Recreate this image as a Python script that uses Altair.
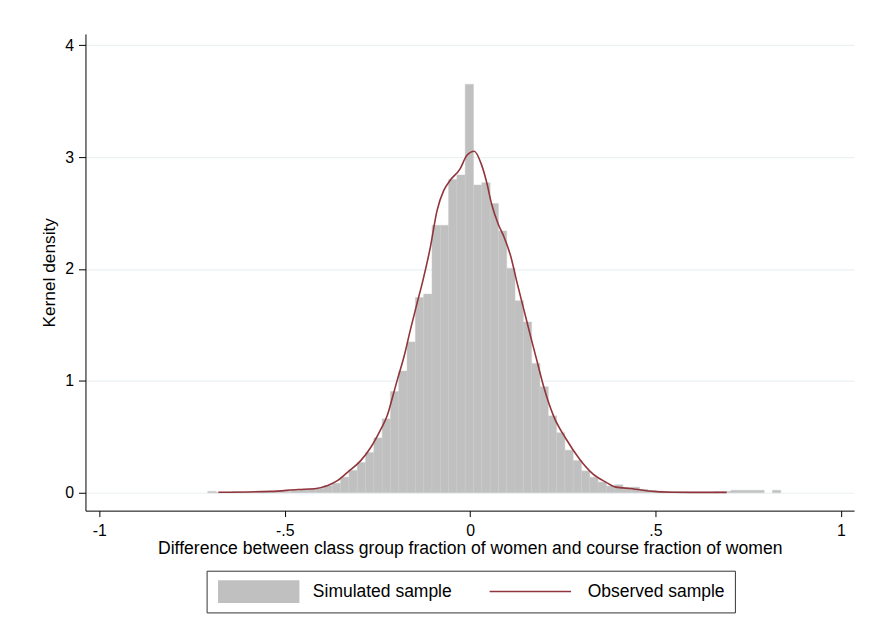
import altair as alt
import pandas as pd

# ---------------- data ----------------
# Histogram of the simulated sample: bin width and the first bin centre
bin_width = 0.0224
first_center = -0.6964
hist_density = [
    0.012, 0.004, 0.004, 0.008, 0.004, 0.008, 0.012, 0.010, 0.012, 0.012,   # -31..-22
    0.020, 0.030, 0.035, 0.040, 0.065, 0.085, 0.139, 0.200, 0.270, 0.360,   # -21..-12
    0.490, 0.660, 0.904, 1.087, 1.348, 1.745, 1.775, 2.390, 2.390, 2.800,   # -11..-2
    2.840, 3.650, 2.750, 2.770, 2.584, 2.340, 2.006, 1.716, 1.526, 1.156,   # -1..8
    0.948, 0.687, 0.536, 0.380, 0.287, 0.195, 0.139, 0.095, 0.060, 0.071,   # 9..18
    0.036, 0.050, 0.030, 0.020, 0.015, 0.012, 0.010, 0.008, 0.006, 0.006,   # 19..28
    0.006, 0.010, 0.012, 0.022, 0.022, 0.022, 0.022, 0.000, 0.022,          # 29..37
]

# Kernel density of the observed sample
kde_x = [-0.679, -0.537, -0.464, -0.419, -0.384, -0.357, -0.330, -0.295, -0.269,
         -0.242, -0.223, -0.210, -0.196, -0.178, -0.161, -0.143, -0.129, -0.107,
         -0.089, -0.071, -0.054, -0.027, -0.009, 0.011, 0.031, 0.045, 0.058,
         0.076, 0.091, 0.109, 0.127, 0.145, 0.163, 0.181, 0.198, 0.225, 0.259,
         0.295, 0.331, 0.366, 0.393, 0.438, 0.481, 0.545, 0.634, 0.692]
kde_y = [0.004, 0.012, 0.029, 0.036, 0.065, 0.110, 0.185, 0.287, 0.400,
         0.560, 0.695, 0.845, 1.013, 1.220, 1.458, 1.695, 1.873, 2.198,
         2.524, 2.702, 2.791, 2.895, 3.013, 3.052, 2.930, 2.770, 2.580,
         2.400, 2.290, 2.120, 1.873, 1.636, 1.400, 1.170, 0.954, 0.687, 0.480,
         0.302, 0.169, 0.095, 0.050, 0.036, 0.015, 0.004, 0.003, 0.003]

series_names = ["Simulated sample", "Observed sample"]
bar_color = "#c0c0c0"
line_color = "#90353b"

x_ticks = [-1, -0.5, 0, 0.5, 1]
x_tick_labels = ["-1", "-.5", "0", ".5", "1"]
y_ticks = [0, 1, 2, 3, 4]

x_title = "Difference between class group fraction of women and course fraction of women"
y_title = "Kernel density"

# ---------------- tables ----------------
rows = []
for i, d in enumerate(hist_density):
    c = first_center + i * bin_width
    rows.append({"x0": c - bin_width / 2, "x1": c + bin_width / 2,
                 "density": d, "series": series_names[0]})
hist_df = pd.DataFrame(rows)
hist_df = hist_df[hist_df["density"] > 0]

kde_df = pd.DataFrame({"x": kde_x, "y": kde_y, "series": series_names[1]})

FONT = "Liberation Sans"
LEG_FONT_SIZE = 17.6

x_scale = alt.Scale(domain=[-1.0375, 1.0357], nice=False, zero=False)
y_scale = alt.Scale(domain=[-0.16, 4.1], nice=False, zero=False)

label_map = "{" + ",".join(f"'{v}':'{t}'" for v, t in zip(x_ticks, x_tick_labels)) + "}"

# legend with the frame, both labels and the grey key (the line key of the
# second entry is supplied by the stroke legend placed on top of it)
fill_legend = alt.Legend(
    title=None,
    orient="none",
    legendX=122,
    legendY=540.5,
    direction="horizontal",
    columns=2,
    symbolType="M-0.83,-1H6.3V1H-0.83Z",
    symbolSize=529,
    symbolStrokeWidth=0,
    symbolOpacity=1,
    labelFont=FONT,
    labelFontSize=LEG_FONT_SIZE,
    labelColor="#000000",
    labelOffset=74.5,
    labelExpr="indexof(datum.label, 'Observed') >= 0 ? datum.label + '\u2002' : datum.label",
    columnPadding=38.7,
    padding=9.5,
    strokeColor="#333333",
    cornerRadius=0,
)

stroke_legend = alt.Legend(
    title=None,
    orient="none",
    legendX=406,
    legendY=549,
    direction="horizontal",
    symbolType="M-1,0H6.13",
    symbolSize=529,
    symbolStrokeWidth=1.6,
    symbolOpacity=1,
    labelExpr="''",
    labelFontSize=1,
    padding=0,
)

x_axis = alt.Axis(
    values=x_ticks,
    labelExpr=label_map + "[''+datum.value]",
    grid=False,
    tickSize=6,
    tickColor="#000000",
    domainColor="#000000",
    labelFont=FONT,
    labelFontSize=16,
    labelColor="#000000",
    labelPadding=6,
    title=x_title,
    titleFont=FONT,
    titleFontSize=17.7,
    titleFontWeight="normal",
    titleColor="#000000",
    titlePadding=1,
)

y_axis = alt.Axis(
    values=y_ticks,
    format="d",
    grid=True,
    gridColor="#eaf2f3",
    gridWidth=1.2,
    tickSize=7,
    tickColor="#000000",
    domainColor="#000000",
    labelAngle=0,
    labelFont=FONT,
    labelFontSize=16,
    labelColor="#000000",
    labelPadding=5,
    title=y_title,
    titleFont=FONT,
    titleFontSize=17.4,
    titleFontWeight="normal",
    titleColor="#000000",
    titlePadding=6,
)

bars = alt.Chart(hist_df).mark_bar(stroke="#cacaca", strokeWidth=0.5, opacity=1).encode(
    x=alt.X("x0:Q", scale=x_scale, axis=x_axis),
    x2="x1:Q",
    y=alt.Y("density:Q", scale=y_scale, axis=y_axis),
    y2=alt.datum(0),
    fill=alt.Fill("series:N",
                  scale=alt.Scale(domain=series_names, range=[bar_color, "transparent"]),
                  legend=fill_legend),
)

line = alt.Chart(kde_df).mark_line(interpolate="monotone", strokeWidth=1.6).encode(
    x=alt.X("x:Q", scale=x_scale),
    y=alt.Y("y:Q", scale=y_scale),
    stroke=alt.Stroke("series:N",
                      scale=alt.Scale(domain=[series_names[1]], range=[line_color]),
                      legend=stroke_legend),
)

chart = (
    alt.layer(bars, line)
    .properties(
        width=774,
        height=480,
        autosize=alt.AutoSizeParams(type="none"),
        padding={"left": 78, "top": 24, "right": 10, "bottom": 110},
        background="#ffffff",
    )
    .configure_view(strokeWidth=0)
)

chart.save("out.html", embed_options={"renderer": "svg", "actions": False})
